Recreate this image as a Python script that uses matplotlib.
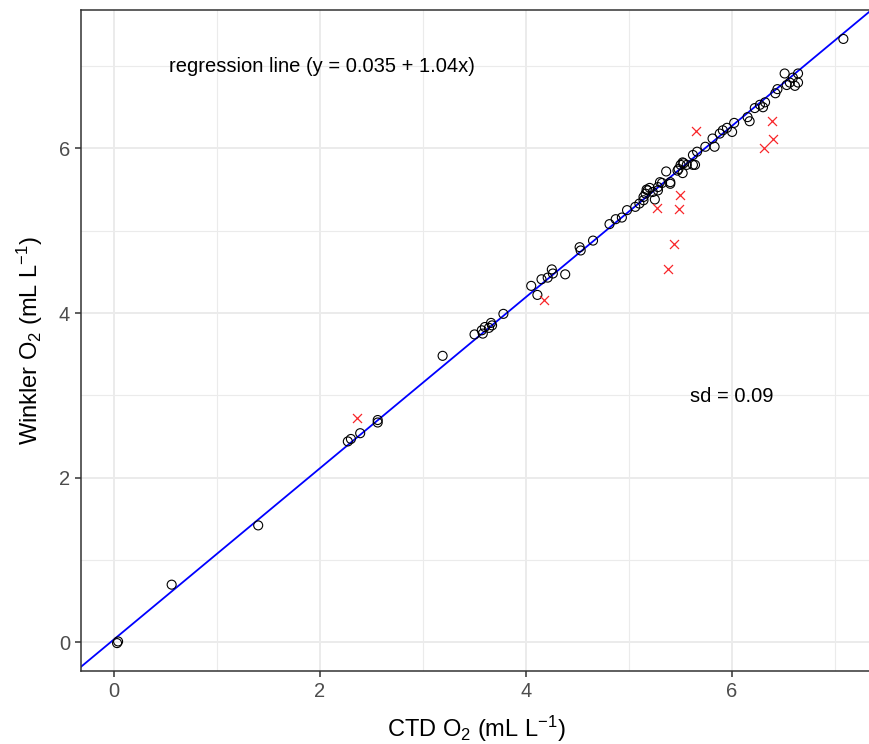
import numpy as np
import matplotlib.pyplot as plt
from matplotlib.ticker import MultipleLocator

plt.rcParams['font.family'] = ['Liberation Sans', 'DejaVu Sans']
plt.rcParams['mathtext.fontset'] = 'custom'
plt.rcParams['mathtext.rm'] = 'Liberation Sans'
plt.rcParams['mathtext.it'] = 'Liberation Sans:italic'

# 일반 관측점 (CTD, Winkler)
ctd_ok = [0.03, 0.04, 0.56, 1.40,
          2.27, 2.30, 2.39, 2.56, 2.56,
          3.19, 3.50, 3.57, 3.58, 3.60, 3.64, 3.66, 3.67, 3.78,
          4.05, 4.11, 4.15, 4.21, 4.25, 4.26, 4.38, 4.52, 4.53, 4.65,
          4.81, 4.87, 4.93, 4.98, 5.06, 5.10, 5.14, 5.14, 5.16, 5.17, 5.18, 5.20,
          5.23, 5.25, 5.28, 5.28, 5.30, 5.32, 5.36, 5.40, 5.40, 5.47, 5.48, 5.50,
          5.52, 5.52, 5.53, 5.56, 5.62, 5.62, 5.64, 5.66, 5.74, 5.81, 5.83, 5.88,
          5.91, 5.95, 6.00, 6.02, 6.15, 6.17, 6.22, 6.27, 6.30, 6.32, 6.42, 6.44,
          6.51, 6.53, 6.56, 6.59, 6.61, 6.64, 6.64, 7.08]
wink_ok = [-0.01, 0.01, 0.70, 1.42,
           2.44, 2.47, 2.54, 2.70, 2.67,
           3.48, 3.74, 3.79, 3.75, 3.83, 3.82, 3.88, 3.85, 3.99,
           4.33, 4.22, 4.41, 4.43, 4.53, 4.48, 4.47, 4.80, 4.76, 4.88,
           5.08, 5.14, 5.16, 5.25, 5.29, 5.33, 5.37, 5.41, 5.45, 5.50, 5.49, 5.52,
           5.47, 5.38, 5.53, 5.49, 5.59, 5.58, 5.72, 5.59, 5.57, 5.73, 5.75, 5.80,
           5.70, 5.83, 5.82, 5.80, 5.80, 5.92, 5.80, 5.96, 6.02, 6.12, 6.02, 6.18,
           6.22, 6.25, 6.20, 6.31, 6.38, 6.33, 6.49, 6.53, 6.50, 6.56, 6.67, 6.72,
           6.91, 6.77, 6.80, 6.86, 6.76, 6.91, 6.80, 7.33]

# 제외된 점 (빨간 X)
ctd_bad = [2.36, 4.17, 5.27, 5.49, 5.48, 5.44, 5.38, 5.65, 6.39, 6.40, 6.31]
wink_bad = [2.72, 4.16, 5.28, 5.43, 5.26, 4.84, 4.54, 6.21, 6.33, 6.12, 6.01]

intercept, slope = 0.035, 1.04
xlim = (-0.32, 7.36)
ylim = (-0.35, 7.68)

fig = plt.figure(figsize=(8.69, 7.44), dpi=100)
# 오른쪽 테두리는 원본처럼 그림 밖으로 살짝 밀어냄
ax = fig.add_axes([0.0932, 0.098, 0.9105, 0.8884])

# ggplot theme_bw 스타일 격자
ax.xaxis.set_major_locator(MultipleLocator(2))
ax.yaxis.set_major_locator(MultipleLocator(2))
ax.xaxis.set_minor_locator(MultipleLocator(1))
ax.yaxis.set_minor_locator(MultipleLocator(1))
ax.grid(which='major', color='#EBEBEB', lw=1.4, zorder=0)
ax.grid(which='minor', color='#EBEBEB', lw=0.8, zorder=0)
ax.set_axisbelow(True)

xx = np.array(xlim)
ax.plot(xx, intercept + slope * xx, color='blue', lw=1.3, zorder=2)

ax.scatter(ctd_ok, wink_ok, s=42, facecolors='none', edgecolors='black',
           linewidths=0.8, zorder=3)
ax.scatter(ctd_bad, wink_bad, s=42, marker='x', color='#F8262A',
           linewidths=0.9, zorder=3)

ax.text(2.02, 6.99, 'regression line (y = 0.035 + 1.04x)', fontsize=14.5,
        ha='center', va='center')
ax.text(6.0, 2.99, 'sd = 0.09', fontsize=14.5, ha='center', va='center')

ax.set_xlim(*xlim)
ax.set_ylim(*ylim)

for sp in ax.spines.values():
    sp.set_color('#333333')
    sp.set_linewidth(1.1)

ax.tick_params(which='major', length=4, width=1.1, color='#333333',
               labelsize=14.5, labelcolor='#4D4D4D', pad=4)
ax.tick_params(which='minor', length=0)

ax.set_xlabel(r'CTD O$_2$ (mL L$^{-1}$)', fontsize=17, labelpad=9)
ax.set_ylabel(r'Winkler O$_2$ (mL L$^{-1}$)', fontsize=17, labelpad=10)

fig.savefig('out.png', dpi=100)
